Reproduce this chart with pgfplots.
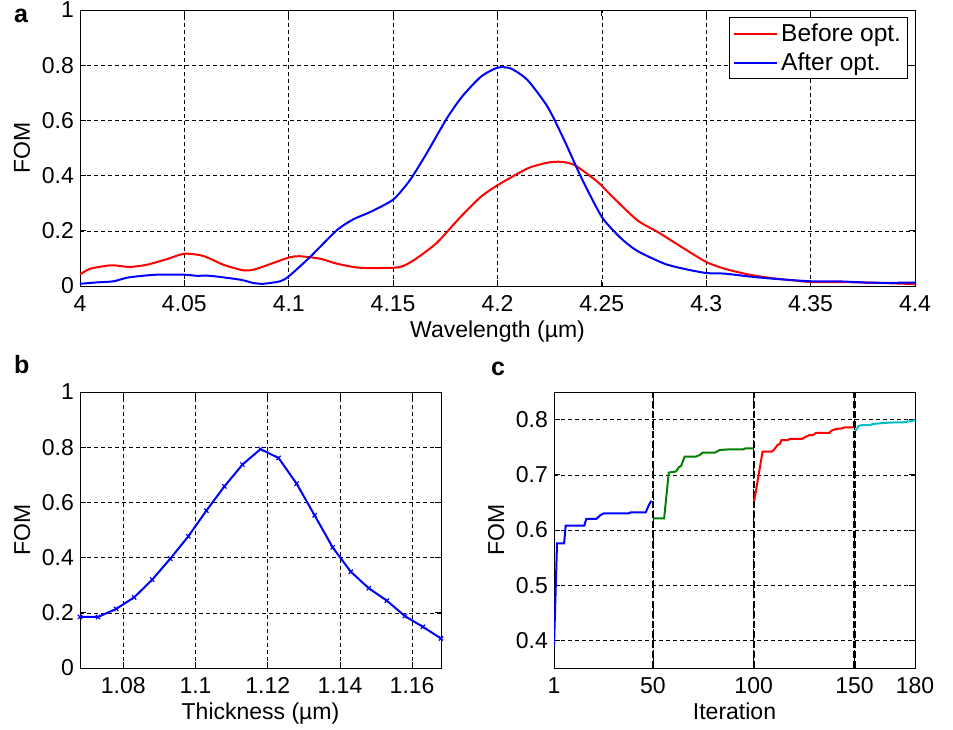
\documentclass[border=0pt]{standalone}
\usepackage{pgfplots}
\pgfplotsset{compat=1.18}
\usepackage{fontspec}
\setmainfont{Liberation Sans}

\definecolor{mred}{RGB}{255,0,0}
\definecolor{mblue}{RGB}{0,0,255}
\definecolor{mgreen}{RGB}{0,128,0}
\definecolor{mcyan}{RGB}{0,191,191}

\newcommand{\fsz}{\fontsize{23}{25}\selectfont}

\pgfplotsset{
  matlab/.style={
    scale only axis,
    axis line style={line width=0.8pt},
    tick align=inside,
    tick pos=both,
    major tick length=6pt,
    tick style={line width=0.8pt, black},
    grid=major,
    major grid style={black, line width=0.6pt, dash pattern=on 4pt off 3pt},
    /pgf/number format/assume math mode=true,
    tick label style={font=\fsz, inner sep=0pt},
    xticklabel style={anchor=base, yshift=-25.5pt},
    yticklabel style={anchor=east, xshift=-6pt},
    label style={font=\fsz, inner sep=0pt},
    xlabel style={anchor=base},
    ylabel style={anchor=base},
  },
}

\begin{document}
\begin{tikzpicture}
\useasboundingbox (0pt,0pt) rectangle (953pt,-729pt);

% ---- panel a: spectra ----
\begin{axis}[matlab,
  at={(80pt,-286pt)}, anchor=south west,
  width=835pt, height=276pt,
  xmin=4, xmax=4.4, ymin=0, ymax=1,
  xtick={4,4.05,4.1,4.15,4.2,4.25,4.3,4.35,4.4},
  xticklabels={4,4.05,4.1,4.15,4.2,4.25,4.3,4.35,4.4},
  ytick={0,0.2,0.4,0.6,0.8,1},
  yticklabels={0,0.2,0.4,0.6,0.8,1},
  xlabel={Wavelength (µm)},
  ylabel={FOM},
  xlabel style={at={(axis description cs:0.5,-0.1848)}},
  ylabel style={at={(axis description cs:-0.0599,0.5)}},
  legend style={at={(axis description cs:0.9916,0.9746)}, anchor=north east,
    draw=black, line width=0.8pt, font=\fontsize{24.5}{26}\selectfont,
    inner sep=3pt, nodes={inner sep=3.5pt}, row sep=3pt},
  legend cell align=left,
  legend image code/.code={\draw[#1] (0pt,0pt) -- (43pt,0pt);},
]
\addplot[mred, line width=2pt, smooth, tension=0.4] coordinates {
  (4.000,0.042) (4.005,0.063) (4.0144,0.075) (4.0176,0.074) (4.024,0.069)
  (4.032,0.077) (4.0415,0.097) (4.050,0.117) (4.059,0.109) (4.0687,0.077)
  (4.078,0.057) (4.083,0.059) (4.0895,0.075) (4.100,0.103) (4.105,0.108)
  (4.115,0.099) (4.123,0.081) (4.134,0.066) (4.150,0.066) (4.155,0.073)
  (4.161,0.099) (4.171,0.157) (4.182,0.248) (4.192,0.323) (4.200,0.365)
  (4.2144,0.426) (4.224,0.447) (4.2304,0.450) (4.237,0.438) (4.248,0.377)
  (4.2543,0.329) (4.267,0.238) (4.2767,0.196) (4.2895,0.135) (4.300,0.087)
  (4.3086,0.063) (4.320,0.042) (4.331,0.029) (4.350,0.0145) (4.363,0.0145)
  (4.379,0.012) (4.400,0.007)
};
\addlegendentry{Before opt.}
\addplot[mblue, line width=2pt, smooth, tension=0.4] coordinates {
  (4.000,0.008) (4.008,0.013) (4.016,0.017) (4.0224,0.030) (4.0288,0.036)
  (4.0367,0.041) (4.050,0.041) (4.056,0.037) (4.0623,0.037) (4.0767,0.023)
  (4.083,0.011) (4.0879,0.008) (4.0958,0.017) (4.100,0.035) (4.1102,0.105)
  (4.123,0.202) (4.131,0.242) (4.139,0.268) (4.150,0.313) (4.158,0.383)
  (4.166,0.480) (4.1757,0.607) (4.183,0.686) (4.192,0.758) (4.200,0.791)
  (4.2064,0.788) (4.2144,0.746) (4.224,0.649) (4.232,0.528) (4.240,0.395)
  (4.250,0.250) (4.259,0.174) (4.267,0.127) (4.2799,0.081) (4.2895,0.062)
  (4.300,0.047) (4.3086,0.045) (4.320,0.035) (4.331,0.027) (4.350,0.017)
  (4.363,0.017) (4.379,0.012) (4.400,0.012)
};
\addlegendentry{After opt.}
\end{axis}

% ---- panel b: thickness sweep ----
\begin{axis}[matlab,
  at={(80pt,-668pt)}, anchor=south west,
  width=361pt, height=276pt,
  xmin=1.068, xmax=1.168, ymin=0, ymax=1,
  xtick={1.08,1.1,1.12,1.14,1.16},
  xticklabels={1.08,1.1,1.12,1.14,1.16},
  ytick={0,0.2,0.4,0.6,0.8,1},
  yticklabels={0,0.2,0.4,0.6,0.8,1},
  xlabel={Thickness (µm)},
  ylabel={FOM},
  xlabel style={at={(axis description cs:0.5,-0.1848)}},
  ylabel style={at={(axis description cs:-0.1385,0.5)}},
]
\addplot[mblue, line width=2pt, mark=x, mark size=3pt,
  mark options={line width=1.2pt}] coordinates {
  (1.068,0.185) (1.073,0.185) (1.078,0.214) (1.083,0.256) (1.088,0.320)
  (1.093,0.396) (1.098,0.477) (1.103,0.570) (1.108,0.658) (1.113,0.737)
  (1.118,0.793) (1.123,0.761) (1.128,0.668) (1.133,0.553) (1.138,0.437)
  (1.143,0.349) (1.148,0.289) (1.153,0.244) (1.158,0.188) (1.163,0.149)
  (1.168,0.107)
};
\end{axis}

% ---- panel c: optimisation history ----
\begin{axis}[matlab,
  at={(554pt,-668pt)}, anchor=south west,
  width=361pt, height=276pt,
  xmin=1, xmax=180, ymin=0.35, ymax=0.85,
  xtick={1,50,100,150,180},
  xticklabels={1,50,100,150,180},
  ytick={0.4,0.5,0.6,0.7,0.8},
  yticklabels={0.4,0.5,0.6,0.7,0.8},
  xlabel={Iteration},
  ylabel={FOM},
  xlabel style={at={(axis description cs:0.5,-0.1848)}},
  ylabel style={at={(axis description cs:-0.1385,0.5)}},
]
\addplot[black, line width=2.2pt, dash pattern=on 7pt off 3pt] coordinates {(50,0.35) (50,0.85)};
\addplot[black, line width=2.2pt, dash pattern=on 7pt off 3pt] coordinates {(100,0.35) (100,0.85)};
\addplot[black, line width=2.2pt, dash pattern=on 7pt off 3pt] coordinates {(150,0.35) (150,0.85)};
\addplot[mblue, line width=2pt] coordinates {
  (1,0.389) (2.5,0.576) (6,0.576) (6.8,0.608) (16,0.608) (17,0.620)
  (22,0.620) (24,0.627) (25.6,0.630) (38,0.630) (39,0.632) (46.5,0.632)
  (48,0.645) (49.3,0.653)
};
\addplot[mgreen, line width=2pt] coordinates {
  (50.2,0.621) (55.6,0.621) (57.9,0.704) (61.4,0.706) (63,0.714) (64,0.716)
  (65.8,0.733) (71.3,0.733) (73.3,0.736) (74.6,0.740) (80.7,0.740)
  (83.2,0.745) (87.4,0.746) (94.8,0.746) (96,0.748) (99.8,0.748)
};
\addplot[mred, line width=2pt] coordinates {
  (100.3,0.653) (104.4,0.742) (108.9,0.742) (110,0.745) (111.8,0.754)
  (113,0.756) (113.8,0.763) (117,0.763) (118,0.765) (124,0.765)
  (125.4,0.768) (127.5,0.772) (129.5,0.772) (130.9,0.776) (137.5,0.776)
  (138.6,0.780) (140.8,0.783) (143.6,0.784) (145.3,0.786) (149.4,0.786)
};
\addplot[mcyan, line width=2pt] coordinates {
  (150.5,0.780) (151.9,0.788) (153.5,0.790) (157.7,0.790) (159,0.792)
  (164.3,0.794) (170,0.795) (174,0.795) (177.5,0.797) (180,0.799)
};
\end{axis}

\node[anchor=base west, inner sep=0pt, font=\bfseries\fontsize{25}{25}\selectfont] at (14pt,-22pt) {a};
\node[anchor=base west, inner sep=0pt, font=\bfseries\fontsize{25}{25}\selectfont] at (14pt,-373pt) {b};
\node[anchor=base west, inner sep=0pt, font=\bfseries\fontsize{25}{25}\selectfont] at (491pt,-375pt) {c};
\end{tikzpicture}
\end{document}
